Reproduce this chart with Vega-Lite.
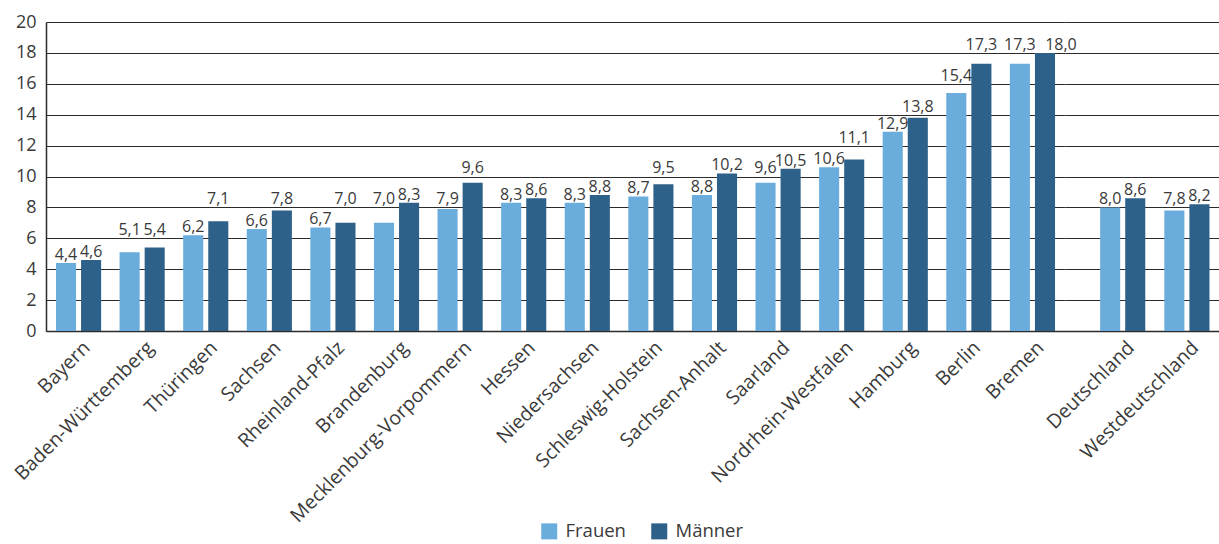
{
  "$schema": "https://vega.github.io/schema/vega-lite/v6.json",
  "padding": {"top": 13, "left": 10, "right": 0, "bottom": 6},
  "bounds": "flush",
  "config": {
    "locale": {"number": {"decimal": ",", "thousands": ".", "grouping": [3], "currency": ["", " €"]}},
    "font": "Open Sans",
    "view": {"stroke": null},
    "axis": {"labelColor": "#3a3a3a", "labelFont": "Open Sans"},
    "legend": {"labelFont": "Open Sans"}
  },
  "datasets": {
    "quote": [
      {"land": "Bayern", "gruppe": "Länder", "geschlecht": "Frauen", "wert": 4.4},
      {"land": "Bayern", "gruppe": "Länder", "geschlecht": "Männer", "wert": 4.6},
      {"land": "Baden-Württemberg", "gruppe": "Länder", "geschlecht": "Frauen", "wert": 5.1},
      {"land": "Baden-Württemberg", "gruppe": "Länder", "geschlecht": "Männer", "wert": 5.4},
      {"land": "Thüringen", "gruppe": "Länder", "geschlecht": "Frauen", "wert": 6.2},
      {"land": "Thüringen", "gruppe": "Länder", "geschlecht": "Männer", "wert": 7.1},
      {"land": "Sachsen", "gruppe": "Länder", "geschlecht": "Frauen", "wert": 6.6},
      {"land": "Sachsen", "gruppe": "Länder", "geschlecht": "Männer", "wert": 7.8},
      {"land": "Rheinland-Pfalz", "gruppe": "Länder", "geschlecht": "Frauen", "wert": 6.7},
      {"land": "Rheinland-Pfalz", "gruppe": "Länder", "geschlecht": "Männer", "wert": 7.0},
      {"land": "Brandenburg", "gruppe": "Länder", "geschlecht": "Frauen", "wert": 7.0},
      {"land": "Brandenburg", "gruppe": "Länder", "geschlecht": "Männer", "wert": 8.3},
      {"land": "Mecklenburg-Vorpommern", "gruppe": "Länder", "geschlecht": "Frauen", "wert": 7.9},
      {"land": "Mecklenburg-Vorpommern", "gruppe": "Länder", "geschlecht": "Männer", "wert": 9.6},
      {"land": "Hessen", "gruppe": "Länder", "geschlecht": "Frauen", "wert": 8.3},
      {"land": "Hessen", "gruppe": "Länder", "geschlecht": "Männer", "wert": 8.6},
      {"land": "Niedersachsen", "gruppe": "Länder", "geschlecht": "Frauen", "wert": 8.3},
      {"land": "Niedersachsen", "gruppe": "Länder", "geschlecht": "Männer", "wert": 8.8},
      {"land": "Schleswig-Holstein", "gruppe": "Länder", "geschlecht": "Frauen", "wert": 8.7},
      {"land": "Schleswig-Holstein", "gruppe": "Länder", "geschlecht": "Männer", "wert": 9.5},
      {"land": "Sachsen-Anhalt", "gruppe": "Länder", "geschlecht": "Frauen", "wert": 8.8},
      {"land": "Sachsen-Anhalt", "gruppe": "Länder", "geschlecht": "Männer", "wert": 10.2},
      {"land": "Saarland", "gruppe": "Länder", "geschlecht": "Frauen", "wert": 9.6},
      {"land": "Saarland", "gruppe": "Länder", "geschlecht": "Männer", "wert": 10.5},
      {"land": "Nordrhein-Westfalen", "gruppe": "Länder", "geschlecht": "Frauen", "wert": 10.6},
      {"land": "Nordrhein-Westfalen", "gruppe": "Länder", "geschlecht": "Männer", "wert": 11.1},
      {"land": "Hamburg", "gruppe": "Länder", "geschlecht": "Frauen", "wert": 12.9},
      {"land": "Hamburg", "gruppe": "Länder", "geschlecht": "Männer", "wert": 13.8},
      {"land": "Berlin", "gruppe": "Länder", "geschlecht": "Frauen", "wert": 15.4},
      {"land": "Berlin", "gruppe": "Länder", "geschlecht": "Männer", "wert": 17.3},
      {"land": "Bremen", "gruppe": "Länder", "geschlecht": "Frauen", "wert": 17.3},
      {"land": "Bremen", "gruppe": "Länder", "geschlecht": "Männer", "wert": 18.0},
      {"land": "Deutschland", "gruppe": "Gesamt", "geschlecht": "Frauen", "wert": 8.0},
      {"land": "Deutschland", "gruppe": "Gesamt", "geschlecht": "Männer", "wert": 8.6},
      {"land": "Westdeutschland", "gruppe": "Gesamt", "geschlecht": "Frauen", "wert": 7.8},
      {"land": "Westdeutschland", "gruppe": "Gesamt", "geschlecht": "Männer", "wert": 8.2}
    ]
  },
  "data": {"name": "quote"},
  "transform": [
    {"calculate": "2 * ceil((datum.wert + 0.1) / 2)", "as": "gitter"},
    {"calculate": "datum.gitter < datum.wert + 1.05 ? datum.gitter + 0.2 : datum.wert + 0.2", "as": "labelY"}
  ],
  "spacing": 0,
  "hconcat": [
    {
      "width": 1019,
      "height": 309,
      "transform": [{"filter": "datum.gruppe === 'Länder'"}],
      "encoding": {
        "x": {"field": "land", "type": "nominal", "sort": null, "title": null,
          "scale": {"paddingInner": 0.29, "paddingOuter": 0.157},
          "axis": {"labelAngle": -45, "labelAlign": "right", "labelBaseline": "top", "labelFontSize": 19.5, "labelOffset": 2, "labelPadding": 7, "ticks": false, "domainColor": "#2b2b2b", "domainWidth": 1.5, "labelLimit": 400}},
        "xOffset": {"field": "geschlecht", "type": "nominal", "scale": {"paddingInner": 0.2}},
        "y": {"field": "wert", "type": "quantitative", "title": null,
          "scale": {"domain": [0, 20]},
          "axis": {"values": [0, 2, 4, 6, 8, 10, 12, 14, 16, 18, 20], "labelFontSize": 18, "ticks": false, "labelPadding": 10, "gridColor": "#2b2b2b", "gridWidth": 1.2, "gridOpacity": 1, "domainColor": "#2b2b2b", "domainWidth": 1.5}}
      },
      "layer": [
        {"mark": {"type": "bar"},
         "encoding": {
           "color": {"field": "geschlecht", "type": "nominal", "title": null,
           "scale": {"domain": ["Frauen", "Männer"], "range": ["#6aacdc", "#2e6189"]},
           "legend": {"orient": "none", "legendX": 494, "legendY": 500, "direction": "horizontal", "symbolType": "square", "symbolSize": 256, "symbolStrokeWidth": 0, "labelFontSize": 18.5, "labelColor": "#3a3a3a", "columnPadding": 24, "labelOffset": 7}}}},
        {"transform": [{"filter": "!(datum.land === 'Bremen' && datum.geschlecht === 'Männer')"}],
         "mark": {"type": "text", "baseline": "alphabetic", "fontSize": 16, "color": "#3a3a3a"},
         "encoding": {
           "y": {"field": "labelY", "type": "quantitative"},
           "text": {"field": "wert", "type": "quantitative", "format": ".1f"}}},
        {"transform": [{"filter": "datum.land === 'Bremen' && datum.geschlecht === 'Männer'"}],
         "mark": {"type": "text", "baseline": "alphabetic", "fontSize": 16, "color": "#3a3a3a", "dx": 16},
         "encoding": {
           "y": {"field": "labelY", "type": "quantitative"},
           "text": {"field": "wert", "type": "quantitative", "format": ".1f"}}}
      ]
    },
    {
      "width": 156,
      "height": 309,
      "transform": [{"filter": "datum.gruppe === 'Gesamt'"}],
      "encoding": {
        "x": {"field": "land", "type": "nominal", "sort": null, "title": null,
          "scale": {"paddingInner": 0.29, "paddingOuter": 0.36, "align": 0.76},
          "axis": {"labelAngle": -45, "labelAlign": "right", "labelBaseline": "top", "labelFontSize": 19.5, "labelOffset": 2, "labelPadding": 7, "ticks": false, "domainColor": "#2b2b2b", "domainWidth": 1.5, "labelLimit": 400}},
        "xOffset": {"field": "geschlecht", "type": "nominal", "scale": {"paddingInner": 0.2}},
        "y": {"field": "wert", "type": "quantitative", "title": null,
          "scale": {"domain": [0, 20]},
          "axis": {"values": [0, 2, 4, 6, 8, 10, 12, 14, 16, 18, 20], "labels": false, "ticks": false, "domain": false, "gridColor": "#2b2b2b", "gridWidth": 1.2, "gridOpacity": 1}}
      },
      "layer": [
        {"mark": {"type": "bar"},
         "encoding": {
           "color": {"field": "geschlecht", "type": "nominal", "title": null,
           "scale": {"domain": ["Frauen", "Männer"], "range": ["#6aacdc", "#2e6189"]}}}},
        {"mark": {"type": "text", "baseline": "alphabetic", "fontSize": 16, "color": "#3a3a3a"},
         "encoding": {
           "y": {"field": "labelY", "type": "quantitative"},
           "text": {"field": "wert", "type": "quantitative", "format": ".1f"}}}
      ]
    }
  ]
}
